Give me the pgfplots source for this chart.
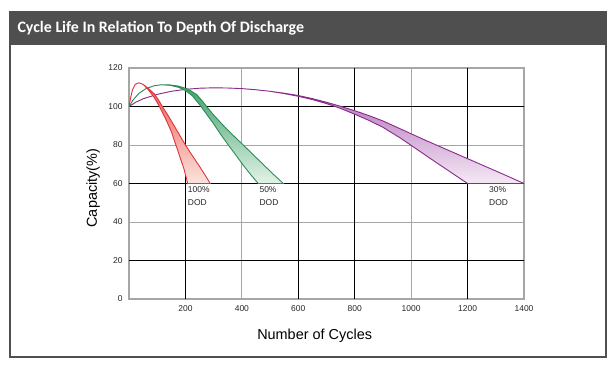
\documentclass[border=0pt]{standalone}
\usepackage{fontspec}
\setmainfont{Liberation Sans}
\newfontfamily\titlefont{Carlito}
\usepackage{pgfplots}
\pgfplotsset{compat=1.18}
\definecolor{hdr}{HTML}{4F4F4F}
\definecolor{redline}{HTML}{E0333B}
\definecolor{redtop}{HTML}{EE5A50}
\definecolor{redbot}{HTML}{FBE3DE}
\definecolor{greenline}{HTML}{2E8B57}
\definecolor{greentop}{HTML}{3FA06A}
\definecolor{greenbot}{HTML}{E3F3E8}
\definecolor{purpleline}{HTML}{8A2A8A}
\definecolor{purpletop}{HTML}{B070B8}
\definecolor{purplebot}{HTML}{F5E8F5}
\begin{document}
\begin{tikzpicture}
\useasboundingbox (0bp,0bp) rectangle (616bp,369bp);
\fill[hdr] (9bp,324bp) rectangle (607bp,357.5bp);
\draw[hdr, line width=2bp] (10bp,12bp) rectangle (606bp,357bp);
\node[anchor=west, text=white, font=\titlefont\bfseries\fontsize{16}{18}\selectfont] at (14bp,340.5bp) {Cycle Life In Relation To Depth Of Discharge};
\begin{axis}[
  at={(129bp,70bp)}, anchor=south west,
  scale only axis, width=395bp, height=231bp,
  xmin=0, xmax=1400, ymin=0, ymax=120,
  xtick={200,400,...,1400}, ytick={0,20,...,120},
  /pgf/number format/assume math mode=true,
  /pgf/number format/1000 sep={},
  ticklabel style={font=\fontsize{8.5}{10}\selectfont, text=black!85},
  xticklabel style={yshift=-3bp},
  yticklabel style={xshift=-3bp},
  major tick length=0pt,
  grid=major,
  major grid style={gray!70, line width=0.8bp},
  extra x ticks={200,600,800,1200}, extra x tick labels={},
  extra y ticks={20,60,100}, extra y tick labels={},
  extra tick style={grid=major, major grid style={black, line width=0.8bp}},
  axis line style={draw=gray!70, line width=1.5bp},
  xlabel={Number of Cycles},
  ylabel={Capacity(\%)},
  label style={font=\fontsize{14.5}{16}\selectfont},
  xlabel style={at={(axis description cs:0.47,-0.16)}, anchor=center},
  ylabel style={at={(axis description cs:-0.091,0.48)}, anchor=center},
]
\addplot[draw=purpleline, line width=0.9bp, top color=purpletop, bottom color=purplebot] coordinates {
(0,100)(25,102.3)(50,104)(100,106.3)(150,107.9)(200,108.9)(250,109.5)(300,109.7)(350,109.6)(400,109.3)(450,108.7)(500,107.9)(550,106.7)(600,105.3)(650,103.6)(700,101.5)(750,99)(800,96)(850,92.8)(900,89.2)(963,83.5)(1020,77.8)(1080,71.8)(1140,65.9)(1200,60)
(1400,60)(1325,64.9)(1250,69.7)(1150,76.1)(1050,82.5)(963,88.3)(900,92.5)(850,95.3)(800,97.8)(750,100.1)(700,102.2)(650,104.1)(600,105.7)(550,106.9)(500,107.9)(450,108.7)(400,109.3)(350,109.6)(300,109.7)(250,109.5)(200,108.9)(150,107.9)(100,106.3)(50,104)(25,102.3)(0,100)
};
\addplot[draw=greenline, line width=0.9bp, top color=greentop, bottom color=greenbot] coordinates {
(0,100)(15,103.5)(35,106.8)(60,109.3)(90,110.8)(115,111.3)(145,111)(175,110)(200,108.3)(225,105.5)(250,101)(275,96)(300,91)(325,85.5)(352,80)(380,74.5)(405,69.5)(432,64.5)(458,60)
(547,60)(510,65)(475,70)(440,75)(405,80)(360,86.3)(330,90.8)(300,95.6)(275,100)(262,102.5)(240,106.2)(210,109)(175,110.6)(145,111.2)(115,111.3)(90,110.8)(60,109.3)(35,106.8)(15,103.5)(0,100)
};
\addplot[draw=redline, line width=0.9bp, top color=redtop, bottom color=redbot] coordinates {
(0,100)(5,104)(12,108.5)(22,111.5)(35,112.3)(50,111.5)(70,108.5)(90,104.5)(108,100)(130,93.5)(150,87)(165,80.5)(180,74)(195,67.5)(208,60)
(288,60)(267,65)(245,70)(222,75)(200,80)(180,85)(160,90)(140,95)(118,100)(105,103.3)(90,106.5)(70,109.2)(50,111.5)(35,112.3)(22,111.5)(12,108.5)(5,104)(0,100)
};
\node[anchor=north west, align=left, inner sep=0pt, font=\fontsize{8.5}{13}\selectfont, text=black!85] at (axis cs:208,58.3) {100\%\\DOD};
\node[anchor=north west, align=left, inner sep=0pt, font=\fontsize{8.5}{13}\selectfont, text=black!85] at (axis cs:462,58.3) {50\%\\DOD};
\node[anchor=north west, align=left, inner sep=0pt, font=\fontsize{8.5}{13}\selectfont, text=black!85] at (axis cs:1276,58.3) {30\%\\DOD};
\end{axis}
\end{tikzpicture}
\end{document}
